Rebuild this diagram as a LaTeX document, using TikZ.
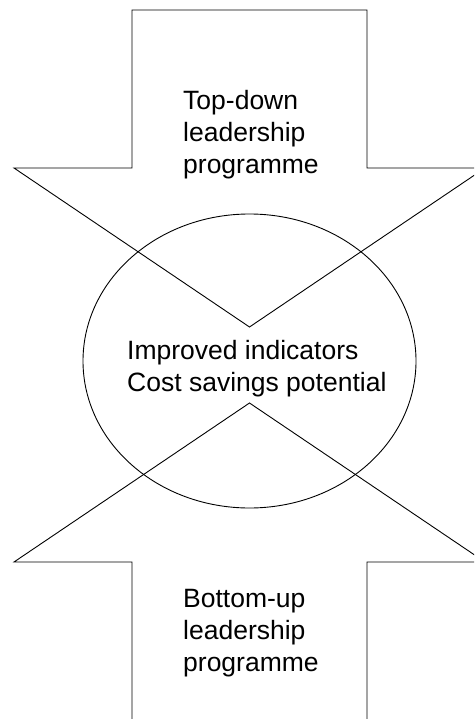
\documentclass[tikz,border=0pt]{standalone}
\usepackage{fontspec}
\setmainfont{Liberation Sans}
\begin{document}
\begin{tikzpicture}[x=1pt,y=-1pt,
  shapeline/.style={draw=black,line width=0.9pt,line join=miter},
  label/.style={anchor=north west,inner sep=0pt,align=left,
    font=\fontsize{26.5}{32}\selectfont}]
\clip (0,0) rectangle (474,719);
\fill[white] (0,0) rectangle (474,719);
% top arrow
\draw[shapeline] (132,10) -- (367,10) -- (367,168) -- (485,168) -- (249.5,327)
  -- (14,168) -- (132,168) -- cycle;
% bottom arrow
\draw[shapeline] (132,730) -- (367,730) -- (367,562) -- (485,562) -- (249.5,403)
  -- (14,562) -- (132,562) -- cycle;
% ellipse
\draw[shapeline] (249.5,361) ellipse [x radius=166.5, y radius=147];
\node[label] (toptext) at (183,90) {Top-down\\leadership\\programme};
\node[label] (midtext) at (127,340) {Improved indicators\\Cost savings potential};
\node[label] (bottext) at (183,589) {Bottom-up\\leadership\\programme};
\end{tikzpicture}
\end{document}
